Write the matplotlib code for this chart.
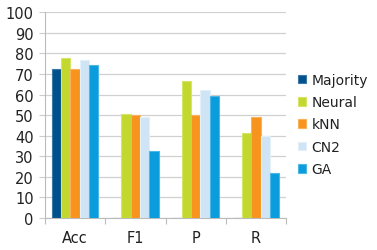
import matplotlib
matplotlib.use("Agg")
import matplotlib.pyplot as plt
import numpy as np

categories = ["Acc", "F1", "P", "R"]
series_names = ["Majority", "Neural", "kNN", "CN2", "GA"]
majority = [72.2, 0, 0, 0]
neural = [77.7, 50.6, 66.8, 41.1]
knn = [72.2, 50.0, 50.1, 49.2]
cn2 = [76.6, 49.0, 62.4, 40.0]
ga = [74.2, 32.4, 59.3, 22.0]
yticks = [0, 10, 20, 30, 40, 50, 60, 70, 80, 90, 100]

series = [majority, neural, knn, cn2, ga]
colors = ["#00508C", "#C3D82E", "#F7941D", "#CFE4F5", "#0A9CDC"]
edges = ["#3C78A8", "#D6E46A", "#FAB15C", "#E3EFF9", "#4DB7E6"]

fig = plt.figure(figsize=(3.77, 2.51), dpi=100)
ax = fig.add_axes([0.119, 0.1275, 0.64, 0.82])

x = np.arange(len(categories))
w = 0.155
for i, (vals, c, e, name) in enumerate(zip(series, colors, edges, series_names)):
    offs = (i - 2) * w
    ax.bar(x + offs, vals, width=w, color=c, edgecolor=e, linewidth=0.8, label=name, zorder=3)

ax.set_ylim(0, 100)
ax.set_xlim(-0.5, len(categories) - 0.5)
ax.set_yticks(yticks)
ax.set_yticklabels([str(v) for v in yticks], fontsize=10.5, color="#222222")
ax.set_xticks(x)
ax.set_xticklabels(categories, fontsize=10.5, color="#222222")
ax.set_xticks(np.arange(-0.5, len(categories)), minor=True)
ax.tick_params(axis="x", which="major", length=0, pad=9)
ax.tick_params(axis="x", which="minor", length=4, color="#BBBBBB", width=0.8)
ax.tick_params(axis="y", length=4, color="#CCCCCC", width=0.8, pad=4)
ax.grid(axis="y", color="#D0D0D0", linewidth=0.9, zorder=0)
for s in ["top", "right"]:
    ax.spines[s].set_visible(False)
for s in ["left", "bottom"]:
    ax.spines[s].set_color("#BBBBBB")
    ax.spines[s].set_linewidth(0.8)

leg = fig.legend(loc="center left", bbox_to_anchor=(0.775, 0.5), frameon=False,
                 fontsize=10, handlelength=0.6, handleheight=0.6, handletextpad=0.4,
                 labelspacing=0.6, borderaxespad=0)
for t in leg.get_texts():
    t.set_color("#222222")

fig.savefig("out.png", dpi=100)
